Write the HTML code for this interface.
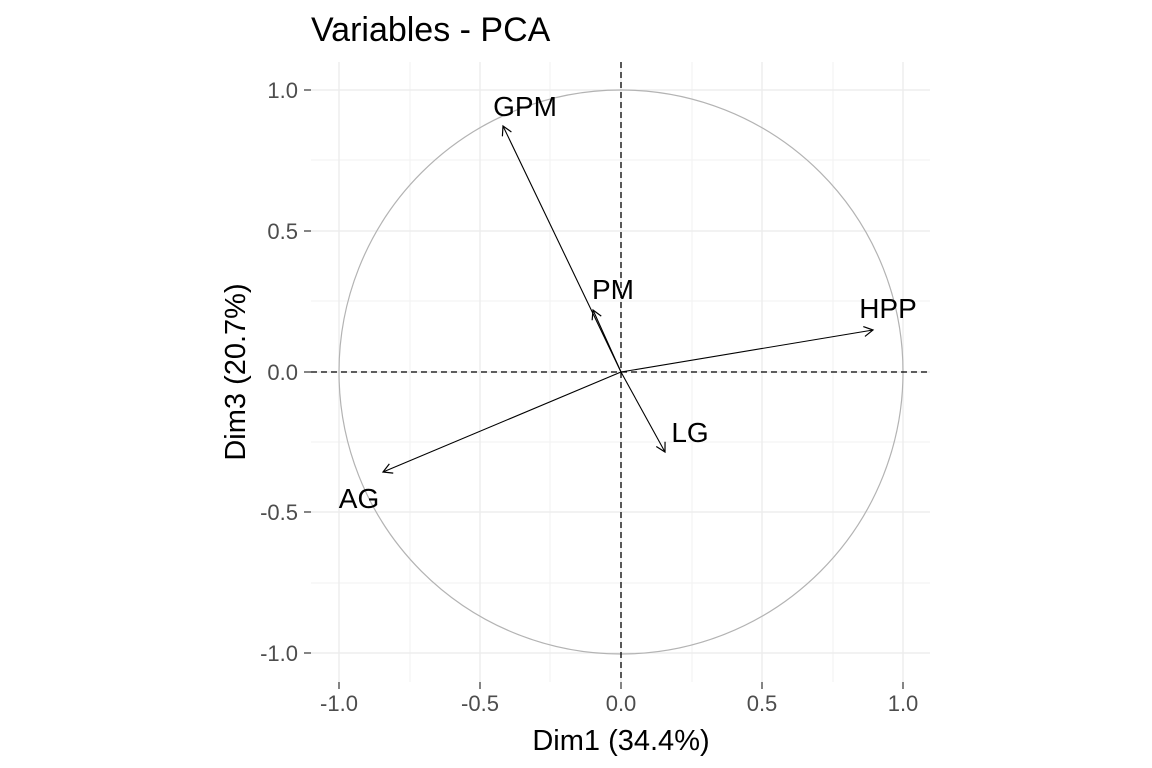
<!DOCTYPE html>
<html><head><style>body{margin:0;background:#fff}svg{display:block}</style></head>
<body>
<svg width="1152" height="768" viewBox="0 0 1152 768" font-family="Liberation Sans, sans-serif">
<defs><marker id="a" markerWidth="12" markerHeight="12" refX="10" refY="6" orient="auto" markerUnits="userSpaceOnUse"><path d="M1,1 L10,6 L1,11" fill="none" stroke="#000" stroke-width="1.2"/></marker></defs>
<g stroke="#f2f2f2" stroke-width="1">
<line x1="410" y1="62" x2="410" y2="682"/><line x1="550" y1="62" x2="550" y2="682"/><line x1="692" y1="62" x2="692" y2="682"/><line x1="833" y1="62" x2="833" y2="682"/>
<line x1="311" y1="160" x2="930" y2="160"/><line x1="311" y1="301" x2="930" y2="301"/><line x1="311" y1="442" x2="930" y2="442"/><line x1="311" y1="583" x2="930" y2="583"/>
</g>
<g stroke="#ebebeb" stroke-width="1.3">
<line x1="339" y1="62" x2="339" y2="682"/><line x1="480" y1="62" x2="480" y2="682"/><line x1="621" y1="62" x2="621" y2="682"/><line x1="762" y1="62" x2="762" y2="682"/><line x1="903" y1="62" x2="903" y2="682"/>
<line x1="311" y1="90" x2="930" y2="90"/><line x1="311" y1="231" x2="930" y2="231"/><line x1="311" y1="372" x2="930" y2="372"/><line x1="311" y1="512" x2="930" y2="512"/><line x1="311" y1="653" x2="930" y2="653"/>
</g>
<circle cx="621" cy="372" r="282" fill="none" stroke="#b3b3b3" stroke-width="1.2"/>
<g stroke="#000" stroke-dasharray="6,4" stroke-width="1.3"><line x1="621" y1="62" x2="621" y2="682"/><line x1="311" y1="372" x2="930" y2="372"/></g>
<g stroke="#000" stroke-width="1.1" marker-end="url(#a)">
<line x1="621" y1="372" x2="503" y2="126"/><line x1="621" y1="372" x2="593" y2="310"/><line x1="621" y1="372" x2="873" y2="330"/><line x1="621" y1="372" x2="665" y2="452"/><line x1="621" y1="372" x2="383" y2="472"/>
</g>
<g font-size="28" fill="#000">
<text x="525" y="116" text-anchor="middle">GPM</text><text x="613" y="299" text-anchor="middle">PM</text><text x="888" y="318" text-anchor="middle">HPP</text><text x="690" y="442" text-anchor="middle">LG</text><text x="359" y="508" text-anchor="middle">AG</text>
</g>
<g stroke="#333" stroke-width="1.2">
<line x1="304" y1="90" x2="311" y2="90"/><line x1="304" y1="231" x2="311" y2="231"/><line x1="304" y1="372" x2="311" y2="372"/><line x1="304" y1="512" x2="311" y2="512"/><line x1="304" y1="653" x2="311" y2="653"/>
<line x1="339" y1="682" x2="339" y2="689"/><line x1="480" y1="682" x2="480" y2="689"/><line x1="621" y1="682" x2="621" y2="689"/><line x1="762" y1="682" x2="762" y2="689"/><line x1="903" y1="682" x2="903" y2="689"/>
</g>
<g font-size="22" fill="#4d4d4d" text-anchor="end">
<text x="298" y="98">1.0</text><text x="298" y="239">0.5</text><text x="298" y="380">0.0</text><text x="298" y="520">-0.5</text><text x="298" y="661">-1.0</text>
</g>
<g font-size="22" fill="#4d4d4d" text-anchor="middle">
<text x="339" y="711">-1.0</text><text x="480" y="711">-0.5</text><text x="621" y="711">0.0</text><text x="762" y="711">0.5</text><text x="903" y="711">1.0</text>
</g>
<text x="621" y="750" font-size="29" text-anchor="middle">Dim1 (34.4%)</text>
<text transform="translate(245,372) rotate(-90)" font-size="29" text-anchor="middle">Dim3 (20.7%)</text>
<text x="311" y="41" font-size="34">Variables - PCA</text>
</svg>
</body></html>
